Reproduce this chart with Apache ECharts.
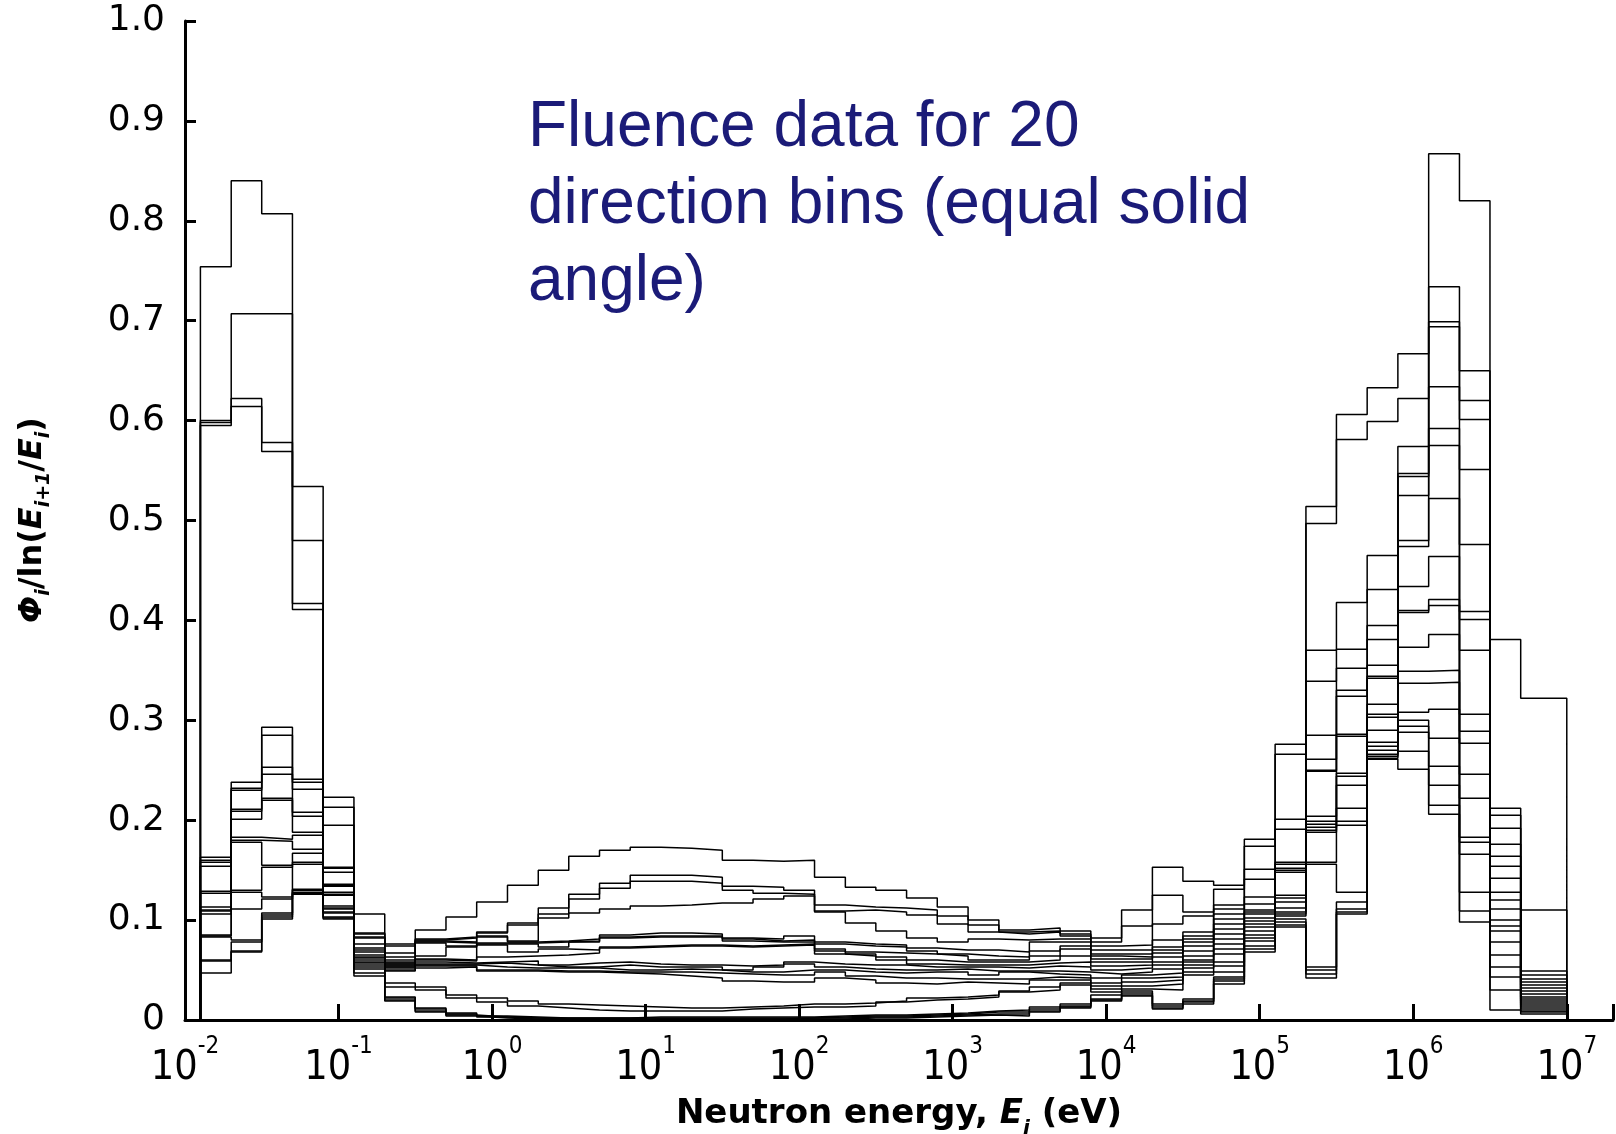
<!DOCTYPE html>
<html>
<head>
<meta charset="utf-8">
<title>Fluence data for 20 direction bins</title>
<script src="https://cdn.jsdelivr.net/npm/echarts@6/dist/echarts.min.js"></script>
<style>
  html, body { margin: 0; padding: 0; background: #ffffff; }
  #chart { width: 1616px; height: 1134px; }
</style>
</head>
<body>
<div id="chart"></div>
<script>
// Energy bin edges in eV: five bins per decade, the last bin running up to 10 MeV
const binEdges = [
  0.0126, 0.02, 0.0316, 0.0501, 0.0794,
  0.126, 0.2, 0.316, 0.501, 0.794,
  1.26, 2.0, 3.16, 5.01, 7.94,
  12.6, 20, 31.6, 50.1, 79.4,
  126, 200, 316, 501, 794,
  1260, 2000, 3160, 5010, 7940,
  12600, 20000, 31600, 50100, 79400,
  1.26e5, 2.0e5, 3.16e5, 5.01e5, 7.94e5,
  1.26e6, 2.0e6, 3.16e6, 5.01e6, 1.0e7
];

// Fluence per unit lethargy, Phi_i / ln(E_i+1 / E_i), one array per direction bin
const dir01 = [0.754, 0.840, 0.807, 0.534, 0.223, 0.106, 0.076, 0.090, 0.103, 0.118, 0.135, 0.150, 0.164, 0.170, 0.173, 0.172, 0.170, 0.160, 0.159, 0.160, 0.143, 0.133, 0.130, 0.122, 0.113, 0.100, 0.090, 0.092, 0.089, 0.082, 0.110, 0.153, 0.139, 0.135, 0.181, 0.276, 0.514, 0.606, 0.633, 0.667, 0.867, 0.820, 0.381, 0.322];
const dir02 = [0.600, 0.707, 0.707, 0.480, 0.213, 0.087, 0.074, 0.081, 0.083, 0.088, 0.097, 0.112, 0.126, 0.137, 0.145, 0.145, 0.143, 0.134, 0.133, 0.130, 0.115, 0.113, 0.112, 0.110, 0.104, 0.095, 0.088, 0.089, 0.086, 0.078, 0.094, 0.125, 0.108, 0.131, 0.174, 0.266, 0.497, 0.581, 0.599, 0.622, 0.734, 0.650, 0.212, 0.110];
const dir03 = [0.598, 0.622, 0.578, 0.417, 0.195, 0.086, 0.067, 0.080, 0.082, 0.087, 0.095, 0.106, 0.121, 0.132, 0.139, 0.139, 0.137, 0.130, 0.127, 0.126, 0.109, 0.110, 0.108, 0.105, 0.096, 0.088, 0.086, 0.088, 0.084, 0.074, 0.075, 0.096, 0.104, 0.115, 0.151, 0.201, 0.370, 0.418, 0.465, 0.574, 0.699, 0.620, 0.205, 0.049];
const dir04 = [0.595, 0.614, 0.569, 0.411, 0.153, 0.083, 0.063, 0.079, 0.078, 0.084, 0.079, 0.102, 0.107, 0.111, 0.114, 0.115, 0.117, 0.117, 0.121, 0.124, 0.108, 0.097, 0.089, 0.082, 0.078, 0.081, 0.080, 0.081, 0.081, 0.070, 0.070, 0.080, 0.088, 0.111, 0.141, 0.191, 0.339, 0.371, 0.431, 0.547, 0.694, 0.601, 0.192, 0.045];
const dir05 = [0.163, 0.238, 0.293, 0.241, 0.152, 0.082, 0.060, 0.078, 0.077, 0.083, 0.078, 0.079, 0.081, 0.085, 0.087, 0.087, 0.086, 0.082, 0.081, 0.084, 0.078, 0.076, 0.075, 0.072, 0.070, 0.070, 0.068, 0.078, 0.078, 0.066, 0.066, 0.073, 0.084, 0.106, 0.123, 0.158, 0.285, 0.352, 0.395, 0.544, 0.634, 0.551, 0.176, 0.041];
const dir06 = [0.160, 0.232, 0.285, 0.238, 0.148, 0.076, 0.058, 0.077, 0.074, 0.077, 0.077, 0.078, 0.079, 0.083, 0.084, 0.084, 0.084, 0.081, 0.079, 0.080, 0.076, 0.074, 0.073, 0.069, 0.066, 0.064, 0.063, 0.069, 0.074, 0.064, 0.063, 0.070, 0.081, 0.101, 0.116, 0.156, 0.261, 0.330, 0.381, 0.525, 0.592, 0.476, 0.164, 0.038];
const dir07 = [0.158, 0.230, 0.253, 0.231, 0.136, 0.072, 0.057, 0.064, 0.073, 0.076, 0.076, 0.073, 0.078, 0.082, 0.083, 0.083, 0.083, 0.079, 0.078, 0.078, 0.071, 0.068, 0.067, 0.066, 0.064, 0.060, 0.060, 0.064, 0.071, 0.061, 0.061, 0.067, 0.078, 0.096, 0.110, 0.152, 0.250, 0.324, 0.355, 0.480, 0.575, 0.409, 0.154, 0.035];
const dir08 = [0.154, 0.211, 0.246, 0.208, 0.135, 0.070, 0.056, 0.061, 0.060, 0.075, 0.068, 0.071, 0.070, 0.073, 0.074, 0.075, 0.075, 0.074, 0.075, 0.076, 0.069, 0.066, 0.063, 0.060, 0.058, 0.058, 0.058, 0.060, 0.064, 0.058, 0.058, 0.063, 0.074, 0.091, 0.108, 0.150, 0.249, 0.286, 0.344, 0.474, 0.522, 0.401, 0.142, 0.032];
const dir09 = [0.129, 0.209, 0.222, 0.204, 0.134, 0.068, 0.055, 0.060, 0.059, 0.063, 0.064, 0.065, 0.067, 0.072, 0.073, 0.074, 0.074, 0.073, 0.074, 0.075, 0.066, 0.064, 0.060, 0.056, 0.055, 0.055, 0.055, 0.057, 0.058, 0.054, 0.055, 0.058, 0.069, 0.086, 0.106, 0.148, 0.204, 0.284, 0.342, 0.434, 0.464, 0.370, 0.128, 0.029];
const dir10 = [0.127, 0.201, 0.220, 0.188, 0.128, 0.065, 0.054, 0.058, 0.057, 0.058, 0.059, 0.055, 0.057, 0.058, 0.056, 0.055, 0.055, 0.054, 0.055, 0.058, 0.056, 0.055, 0.055, 0.053, 0.053, 0.053, 0.052, 0.054, 0.053, 0.050, 0.052, 0.055, 0.064, 0.081, 0.102, 0.125, 0.199, 0.247, 0.316, 0.410, 0.421, 0.306, 0.120, 0.026];
const dir11 = [0.113, 0.183, 0.181, 0.185, 0.126, 0.063, 0.053, 0.056, 0.056, 0.057, 0.055, 0.053, 0.053, 0.055, 0.053, 0.053, 0.053, 0.050, 0.053, 0.056, 0.053, 0.051, 0.050, 0.050, 0.051, 0.049, 0.049, 0.049, 0.048, 0.046, 0.048, 0.051, 0.060, 0.076, 0.099, 0.122, 0.196, 0.244, 0.306, 0.408, 0.415, 0.289, 0.111, 0.023];
const dir12 = [0.110, 0.180, 0.179, 0.171, 0.125, 0.062, 0.052, 0.055, 0.055, 0.053, 0.052, 0.052, 0.052, 0.050, 0.050, 0.051, 0.050, 0.048, 0.048, 0.050, 0.050, 0.048, 0.047, 0.048, 0.048, 0.045, 0.048, 0.046, 0.045, 0.042, 0.045, 0.047, 0.058, 0.071, 0.096, 0.118, 0.193, 0.235, 0.303, 0.373, 0.386, 0.277, 0.100, 0.021];
const dir13 = [0.109, 0.178, 0.155, 0.167, 0.114, 0.060, 0.050, 0.054, 0.054, 0.050, 0.050, 0.049, 0.049, 0.048, 0.048, 0.048, 0.047, 0.046, 0.045, 0.045, 0.048, 0.044, 0.042, 0.042, 0.041, 0.041, 0.041, 0.043, 0.042, 0.037, 0.042, 0.043, 0.055, 0.066, 0.093, 0.112, 0.190, 0.212, 0.290, 0.349, 0.350, 0.246, 0.094, 0.019];
const dir14 = [0.106, 0.130, 0.153, 0.158, 0.112, 0.058, 0.049, 0.052, 0.053, 0.049, 0.049, 0.048, 0.048, 0.047, 0.046, 0.044, 0.042, 0.039, 0.038, 0.038, 0.042, 0.040, 0.037, 0.036, 0.038, 0.037, 0.036, 0.040, 0.040, 0.034, 0.038, 0.040, 0.052, 0.058, 0.089, 0.108, 0.188, 0.199, 0.278, 0.337, 0.338, 0.222, 0.089, 0.017];
const dir15 = [0.085, 0.128, 0.123, 0.156, 0.111, 0.057, 0.037, 0.033, 0.025, 0.022, 0.019, 0.016, 0.015, 0.014, 0.013, 0.012, 0.012, 0.013, 0.014, 0.016, 0.016, 0.017, 0.019, 0.022, 0.023, 0.025, 0.029, 0.033, 0.037, 0.031, 0.034, 0.036, 0.048, 0.054, 0.085, 0.106, 0.158, 0.195, 0.274, 0.308, 0.311, 0.183, 0.078, 0.015];
const dir16 = [0.084, 0.111, 0.121, 0.131, 0.108, 0.055, 0.033, 0.030, 0.022, 0.018, 0.014, 0.012, 0.010, 0.009, 0.009, 0.009, 0.009, 0.011, 0.012, 0.013, 0.013, 0.014, 0.018, 0.020, 0.021, 0.023, 0.028, 0.030, 0.035, 0.028, 0.031, 0.030, 0.045, 0.048, 0.082, 0.104, 0.156, 0.128, 0.270, 0.300, 0.282, 0.178, 0.065, 0.013];
const dir17 = [0.083, 0.080, 0.107, 0.130, 0.107, 0.053, 0.023, 0.012, 0.007, 0.004, 0.003, 0.002, 0.002, 0.002, 0.003, 0.003, 0.003, 0.003, 0.003, 0.003, 0.004, 0.005, 0.005, 0.006, 0.007, 0.009, 0.010, 0.013, 0.016, 0.025, 0.029, 0.016, 0.021, 0.043, 0.079, 0.101, 0.053, 0.118, 0.266, 0.294, 0.254, 0.166, 0.053, 0.011];
const dir18 = [0.060, 0.078, 0.105, 0.128, 0.103, 0.051, 0.022, 0.011, 0.006, 0.003, 0.002, 0.002, 0.002, 0.002, 0.002, 0.002, 0.002, 0.002, 0.002, 0.002, 0.003, 0.004, 0.004, 0.005, 0.006, 0.008, 0.008, 0.011, 0.014, 0.021, 0.027, 0.014, 0.019, 0.041, 0.074, 0.098, 0.050, 0.111, 0.264, 0.288, 0.235, 0.128, 0.043, 0.009];
const dir19 = [0.059, 0.069, 0.103, 0.127, 0.102, 0.047, 0.020, 0.009, 0.005, 0.003, 0.002, 0.001, 0.001, 0.001, 0.001, 0.001, 0.001, 0.001, 0.001, 0.002, 0.002, 0.003, 0.003, 0.004, 0.005, 0.006, 0.006, 0.009, 0.013, 0.020, 0.025, 0.012, 0.018, 0.039, 0.071, 0.095, 0.046, 0.108, 0.262, 0.269, 0.215, 0.109, 0.030, 0.008];
const dir20 = [0.047, 0.068, 0.101, 0.126, 0.101, 0.044, 0.019, 0.008, 0.004, 0.002, 0.001, 0.001, 0.001, 0.001, 0.001, 0.001, 0.001, 0.001, 0.001, 0.001, 0.001, 0.002, 0.002, 0.003, 0.004, 0.005, 0.004, 0.008, 0.012, 0.019, 0.024, 0.011, 0.016, 0.036, 0.068, 0.093, 0.042, 0.106, 0.261, 0.251, 0.206, 0.098, 0.010, 0.006];

const directionBins = [
  dir01, dir02, dir03, dir04, dir05, dir06, dir07, dir08, dir09, dir10,
  dir11, dir12, dir13, dir14, dir15, dir16, dir17, dir18, dir19, dir20
];

// Decade exponents that get a "10^n" label on the energy axis
const xTickExponents = [-2, -1, 0, 1, 2, 3, 4, 5, 6, 7];

const annotationLines = ['Fluence data for 20', 'direction bins (equal solid', 'angle)'];

// Turn a per-bin array into a closed histogram outline (rises from 0 at the
// first edge, falls back to 0 at the last edge); drawn with step: 'end'.
function histogramOutline(values) {
  const pts = [[binEdges[0], 0]];
  values.forEach(function (v, i) { pts.push([binEdges[i], v]); });
  pts.push([binEdges[binEdges.length - 1], 0]);
  return pts;
}

const narrowFont = '"Liberation Sans Narrow", "Arial Narrow", "DejaVu Sans Condensed", "Liberation Sans", sans-serif';

const chart = echarts.init(document.getElementById('chart'), null, { renderer: 'canvas' });

const option = {
  backgroundColor: '#ffffff',
  animation: false,
  grid: { left: 185, right: 3, top: 21, bottom: 114, containLabel: false },
  xAxis: {
    type: 'log',
    logBase: 10,
    min: 0.01,
    max: 2e7,
    splitLine: { show: false },
    axisLine: { show: true, onZero: false, lineStyle: { color: '#000', width: 3 } },
    axisTick: { show: true, inside: true, length: 16, lineStyle: { color: '#000', width: 3 } },
    axisLabel: {
      margin: 28,
      color: '#000',
      formatter: function (v) {
        const lg = Math.log10(v);
        const p = Math.round(lg);
        if (Math.abs(lg - p) > 1e-6 || xTickExponents.indexOf(p) < 0) return '';
        return '{b|10}{s|' + p + '}';
      },
      rich: {
        b: { fontSize: 41, fontFamily: narrowFont, color: '#000', lineHeight: 41, verticalAlign: 'bottom' },
        s: { fontSize: 24, fontFamily: narrowFont, color: '#000', lineHeight: 24, padding: [0, 0, 30, 0], verticalAlign: 'bottom' }
      }
    }
  },
  yAxis: {
    type: 'value',
    min: 0,
    max: 1,
    interval: 0.1,
    splitLine: { show: false },
    axisLine: { show: true, onZero: false, lineStyle: { color: '#000', width: 3 } },
    axisTick: { show: true, inside: true, length: 11, lineStyle: { color: '#000', width: 3 } },
    axisLabel: {
      margin: 20,
      color: '#000',
      fontSize: 36,
      fontFamily: '"DejaVu Sans", sans-serif',
      formatter: function (v) { return v === 0 ? '0' : v.toFixed(1); }
    }
  },
  series: directionBins.map(function (vals, i) {
    return {
      name: 'Direction bin ' + (i + 1),
      type: 'line',
      step: 'end',
      data: histogramOutline(vals),
      showSymbol: false,
      symbol: 'none',
      silent: true,
      lineStyle: { color: '#000', width: 1.5 },
      z: 2
    };
  }),
  graphic: [
    {
      type: 'text',
      x: 528,
      y: 90,
      silent: true,
      style: {
        text: annotationLines.join('\n'),
        fill: '#1B1B78',
        fontSize: 64,
        fontFamily: '"Liberation Sans", Arial, sans-serif',
        lineHeight: 77,
        align: 'left',
        verticalAlign: 'top'
      }
    },
    {
      type: 'text',
      x: 899,
      y: 1117,
      silent: true,
      style: {
        text: '{a|Neutron energy, }{e|E}{s|i}{a| (eV)}',
        align: 'center',
        verticalAlign: 'middle',
        rich: {
          a: { fontSize: 34, fontWeight: 'bold', fontFamily: '"DejaVu Sans", sans-serif', fill: '#000', lineHeight: 40, verticalAlign: 'top' },
          e: { fontSize: 34, fontWeight: 'bold', fontStyle: 'italic', fontFamily: '"DejaVu Sans", sans-serif', fill: '#000', lineHeight: 40, verticalAlign: 'top' },
          s: { fontSize: 20, fontWeight: 'bold', fontStyle: 'italic', fontFamily: '"DejaVu Sans", sans-serif', fill: '#000', lineHeight: 20, padding: [22, 0, 0, 0], verticalAlign: 'top' }
        }
      }
    },
    {
      type: 'text',
      x: 35,
      y: 520,
      rotation: Math.PI / 2,
      silent: true,
      style: {
        text: '{e|\u03A6}{s|i}{a|/ln(}{e|E}{s|i+1}{a|/}{e|E}{s|i}{a|)}',
        align: 'center',
        verticalAlign: 'middle',
        rich: {
          a: { fontSize: 32, fontWeight: 'bold', fontFamily: '"DejaVu Sans", sans-serif', fill: '#000', lineHeight: 36, verticalAlign: 'top' },
          e: { fontSize: 32, fontWeight: 'bold', fontStyle: 'italic', fontFamily: '"DejaVu Sans", sans-serif', fill: '#000', lineHeight: 36, verticalAlign: 'top' },
          s: { fontSize: 19, fontWeight: 'bold', fontStyle: 'italic', fontFamily: '"DejaVu Sans", sans-serif', fill: '#000', lineHeight: 19, padding: [18, 0, 0, 0], verticalAlign: 'top' }
        }
      }
    }
  ]
};

chart.setOption(option);
</script>
</body>
</html>
